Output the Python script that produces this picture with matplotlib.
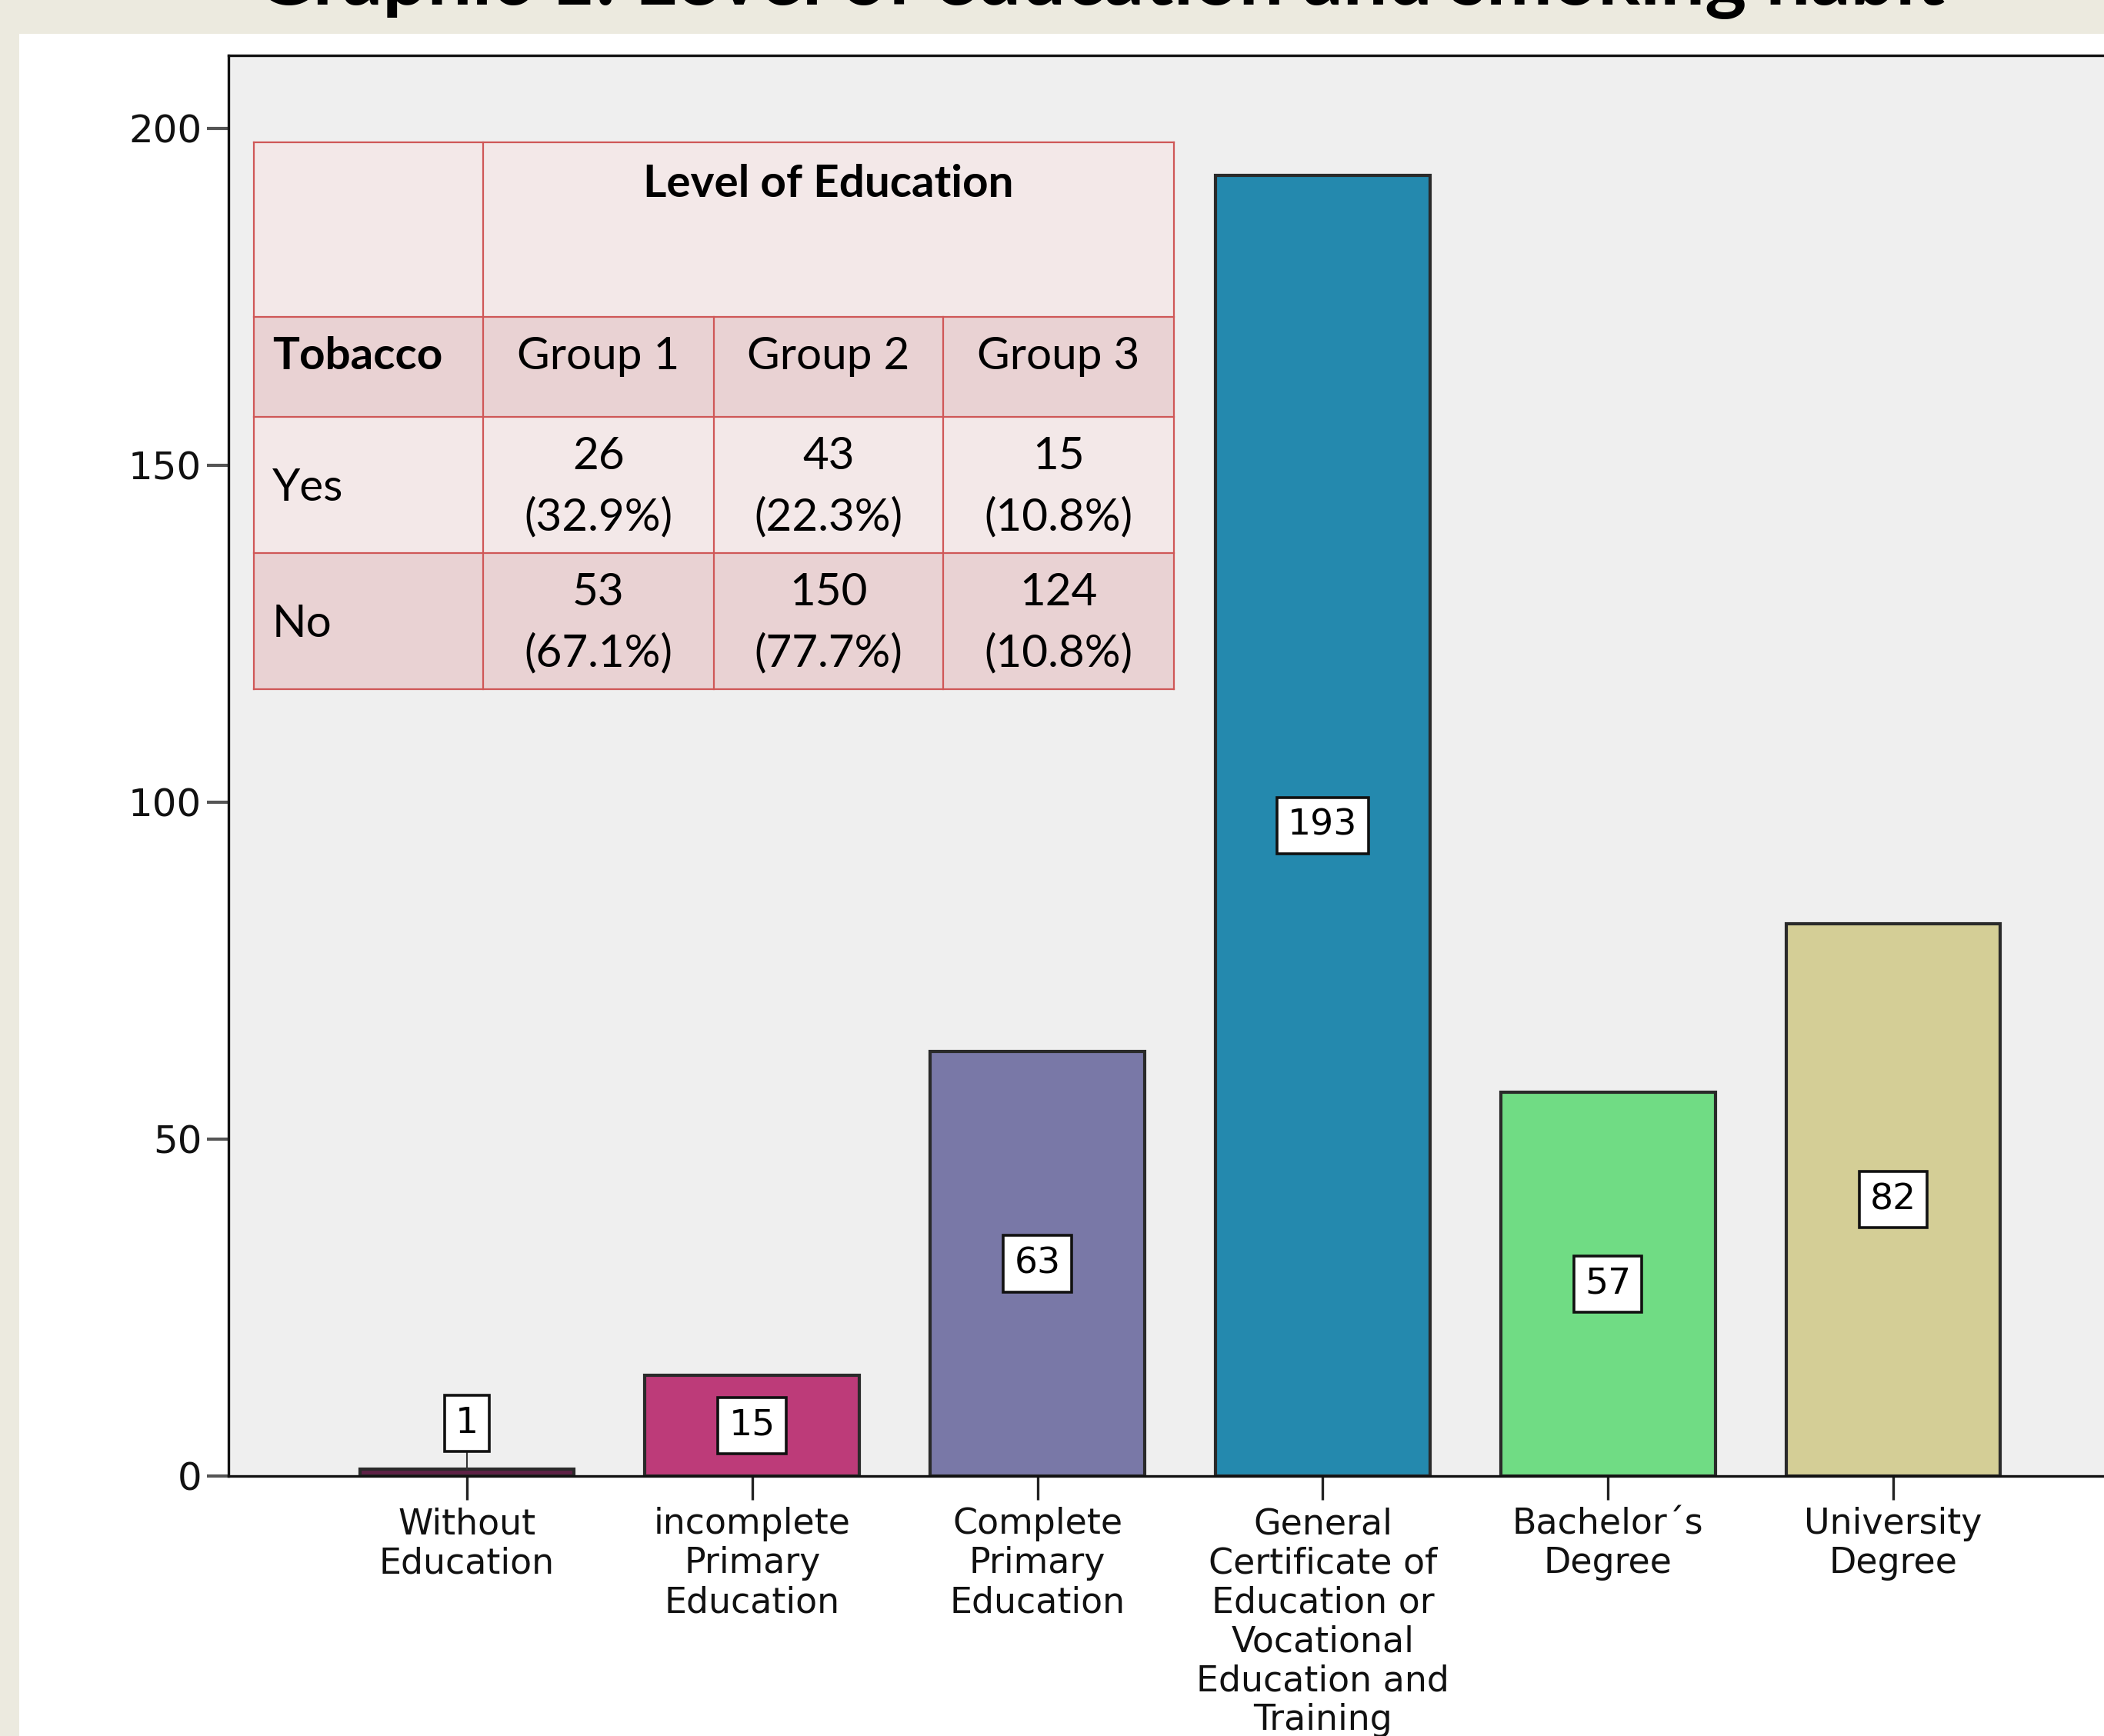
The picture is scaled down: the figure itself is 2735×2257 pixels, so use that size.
import matplotlib
matplotlib.use("Agg")
import matplotlib.pyplot as plt
from matplotlib.patches import Rectangle
from matplotlib.lines import Line2D
import numpy as np

# ---------------- data ----------------
title = "Graphic 1: Level of education and smoking habit"
categories = ["Without\nEducation",
              "incomplete\nPrimary\nEducation",
              "Complete\nPrimary\nEducation",
              "General\nCertificate of\nEducation or\nVocational\nEducation and\nTraining",
              "Bachelor´s\nDegree",
              "University\nDegree"]
counts = [1, 15, 63, 193, 57, 82]
bar_colors = ["#5E2146", "#BD3B79", "#7978A7", "#2489AE", "#70DC84", "#D4CE96"]
yticks = [0, 50, 100, 150, 200]

table_header = "Level of Education"
table_row_label = "Tobacco"
table_groups = ["Group 1", "Group 2", "Group 3"]
table_rows = ["Yes", "No"]
yes_counts = [26, 43, 15]
yes_pcts = [32.9, 22.3, 10.8]
no_counts = [53, 150, 124]
no_pcts = [67.1, 77.7, 10.8]

# ---------------- layout helpers ----------------
W, H = 2735, 2257
def fx(px):
    return px / W
def fy(py):
    return 1 - py / H

fig = plt.figure(figsize=(W / 100, H / 100), dpi=100, facecolor="#ECEADF")

# white panel
fig.add_artist(Rectangle((fx(25), 0), 1 - fx(25), fy(44), transform=fig.transFigure,
                         facecolor="white", edgecolor="none", zorder=-10))

# title (cut off at top like the reference)
fig.text(fx(332), fy(6), title, ha="left", va="baseline", fontsize=74,
         fontweight="bold", family="Lato", color="black")

# ---------------- axes ----------------
ax_left, ax_bottom, ax_top = 297, 1919, 72
ax = fig.add_axes([fx(ax_left), fy(ax_bottom), 1 - fx(ax_left), fy(ax_top) - fy(ax_bottom)])
ax.set_facecolor("#EFEFEF")

x = np.arange(len(categories))
ax.bar(x, counts, width=0.752, color=bar_colors, edgecolor="#2A2A2A", linewidth=3, zorder=3)

ax.set_xlim(-0.836, 5.739)
ax.set_ylim(0, 210.8)
ax.set_yticks(yticks)
ax.set_yticklabels([str(t) for t in yticks])
ax.set_xticks(x)
ax.set_xticklabels(categories, linespacing=1.17)

for s in ["left", "bottom", "top"]:
    ax.spines[s].set_color("#111111")
    ax.spines[s].set_linewidth(2.4)
ax.spines["right"].set_visible(False)
ax.spines["bottom"].set_zorder(4)

ax.tick_params(axis="y", direction="out", length=20, width=3, color="#555555",
               labelsize=36, pad=5, labelcolor="#111111")
ax.tick_params(axis="x", direction="out", length=22, width=2.4, color="#222222",
               labelsize=33, pad=7, labelcolor="#111111")
for lab in ax.get_yticklabels() + ax.get_xticklabels():
    lab.set_family("DejaVu Sans")

# value labels
box = dict(boxstyle="square,pad=0.3", facecolor="white", edgecolor="#111111", linewidth=2.6)
for i, v in enumerate(counts):
    if v < 8:
        ax.annotate(str(v), xy=(i, v), xytext=(i, v + 6.8), ha="center", va="center",
                    fontsize=34, bbox=box, zorder=5,
                    arrowprops=dict(arrowstyle="-", color="#333333", lw=1.5,
                                    shrinkA=0, shrinkB=0))
    else:
        ax.text(i, v / 2, str(v), ha="center", va="center", fontsize=34, bbox=box, zorder=5)

# ---------------- inset table ----------------
cols = [330, 628, 928, 1226, 1526]
rows = [185, 412, 542, 719, 896]
light, dark = "#F3E8E8", "#E9D2D3"
line_c = "#CF5757"
fills = [light, dark, light, dark]
for r in range(4):
    fig.add_artist(Rectangle((fx(cols[0]), fy(rows[r + 1])), fx(cols[-1]) - fx(cols[0]),
                             fy(rows[r]) - fy(rows[r + 1]), transform=fig.transFigure,
                             facecolor=fills[r], edgecolor="none", zorder=5))
for yv in rows:
    fig.add_artist(Line2D([fx(cols[0]), fx(cols[-1])], [fy(yv), fy(yv)],
                          transform=fig.transFigure, color=line_c, lw=1.6, zorder=6))
for j, xv in enumerate(cols):
    top = rows[0] if j in (0, 1, 4) else rows[1]
    fig.add_artist(Line2D([fx(xv), fx(xv)], [fy(top), fy(rows[-1])],
                          transform=fig.transFigure, color=line_c, lw=1.6, zorder=6))

tfont = dict(family="Lato", color="black", zorder=7)
fig.text(fx((cols[1] + cols[-1]) / 2), fy(239), table_header, ha="center", va="center",
         fontsize=42, fontweight="bold", **tfont)
fig.text(fx(354), fy(464), table_row_label, ha="left", va="center", fontsize=42,
         fontweight="bold", **tfont)
for j, g in enumerate(table_groups):
    cx = fx((cols[j + 1] + cols[j + 2]) / 2)
    fig.text(cx, fy(464), g, ha="center", va="center", fontsize=42, **tfont)

row_centers = [(rows[2] + rows[3]) / 2, (rows[3] + rows[4]) / 2]
for r, (lab, cnts, pcts) in enumerate(zip(table_rows, [yes_counts, no_counts], [yes_pcts, no_pcts])):
    yc = row_centers[r]
    fig.text(fx(354), fy(yc + 4), lab, ha="left", va="center", fontsize=42, **tfont)
    for j in range(3):
        cx = fx((cols[j + 1] + cols[j + 2]) / 2)
        fig.text(cx, fy(yc - 37), str(cnts[j]), ha="center", va="center", fontsize=42, **tfont)
        fig.text(cx, fy(yc + 42), f"({pcts[j]:.1f}%)", ha="center", va="center", fontsize=42, **tfont)

fig.savefig("out.png", dpi=100, facecolor=fig.get_facecolor())
